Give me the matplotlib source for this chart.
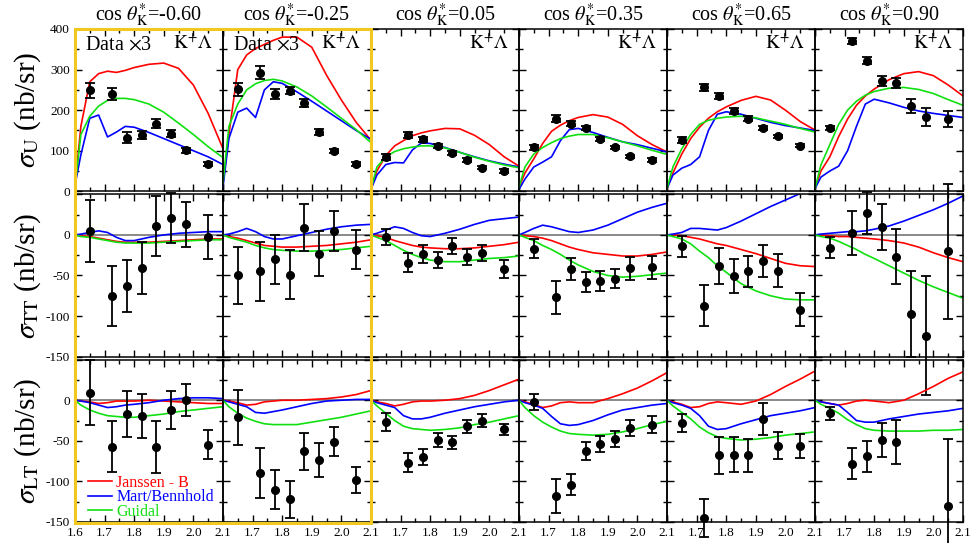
import numpy as np
import matplotlib
matplotlib.use("Agg")
import matplotlib.pyplot as plt
from matplotlib.patches import Rectangle
from matplotlib.ticker import MultipleLocator

plt.rcParams["font.family"] = ["Liberation Serif", "DejaVu Serif"]
plt.rcParams["mathtext.fontset"] = "stix"

# ----------------------------
# Data
# ----------------------------
cos_labels = ["-0.60", "-0.25", "0.05", "0.35", "0.65", "0.90"]
w_data = [1.65, 1.725, 1.775, 1.825, 1.875, 1.925, 1.975, 2.05]
w_model = [1.6, 1.62, 1.65, 1.68, 1.71, 1.74, 1.77, 1.8, 1.85, 1.9, 1.95, 2.0, 2.05, 2.1]

sigU = [
    [249, 240, 132, 138, 167, 142, 101, 67],
    [251, 292, 239, 248, 217, 147, 100, 67],
    [85, 138, 128, 112, 95, 77, 58, 50],
    [109, 179, 167, 155, 128, 108, 86, 77],
    [126, 256, 235, 198, 179, 157, 136, 112],
    [157, 371, 322, 272, 267, 210, 183, 178],
]
sigU_err = [
    [19, 14, 13, 10, 12, 8, 6, 5],
    [16, 16, 12, 8, 10, 7, 5, 5],
    [7, 7, 7, 5, 5, 4, 4, 4],
    [6, 8, 6, 5, 5, 4, 4, 4],
    [8, 9, 8, 7, 6, 5, 4, 4],
    [5, 7, 8, 12, 12, 18, 23, 19],
]
sigTT = [
    [5, -75, -63, -41, 11, 21, 13, -3],
    [-50, -45, -30, -49, 9, -23, 5, -18],
    [-3, -34, -23, -31, -14, -27, -22, -42],
    [-17, -77, -42, -58, -57, -54, -41, -40],
    [-14, -87, -38, -51, -45, -32, -44, -92],
    [-16, 2, 27, 10, -27, -97, -124, -20],
]
sigTT_err = [
    [38, 37, 32, 32, 37, 31, 28, 27],
    [35, 36, 30, 30, 29, 28, 25, 24],
    [10, 12, 11, 10, 10, 10, 10, 11],
    [12, 20, 13, 12, 12, 12, 14, 14],
    [13, 25, 22, 21, 19, 20, 20, 20],
    [13, 27, 26, 28, 34, 53, 73, 83],
]
sigLT = [
    [9, -57, -17, -19, -58, -12, 0, -55],
    [-21, -90, -110, -122, -63, -74, -51, -98],
    [-27, -77, -70, -49, -52, -32, -25, -36],
    [-2, -118, -104, -63, -54, -48, -34, -30],
    [-28, -145, -68, -67, -68, -23, -56, -56],
    [-16, -78, -69, -49, -51, np.nan, np.nan, -130],
]
sigLT_err = [
    [40, 31, 28, 27, 32, 24, 20, 18],
    [34, 31, 24, 23, 23, 21, 18, 16],
    [11, 12, 10, 9, 8, 8, 8, 7],
    [10, 21, 13, 11, 10, 10, 10, 10],
    [11, 23, 23, 22, 20, 20, 17, 15],
    [8, 19, 19, 21, 27, 0, 0, 82],
]

# model curves: Janssen - B / Mart-Bennhold / Guidal
U_janssen = [
    [10, 160, 270, 290, 296, 293, 298, 305, 313, 316, 303, 262, 192, 105],
    [20, 140, 300, 336, 352, 362, 372, 380, 380, 355, 286, 225, 170, 126],
    [5, 50, 88, 112, 125, 137, 144, 149, 155, 154, 138, 115, 85, 62],
    [10, 45, 80, 118, 148, 163, 174, 182, 189, 183, 165, 137, 115, 97],
    [7, 45, 92, 130, 158, 180, 196, 208, 224, 234, 225, 200, 172, 151],
    [7, 50, 85, 135, 178, 212, 235, 252, 275, 290, 295, 285, 262, 235],
]
U_mart = [
    [15, 90, 180, 188, 134, 146, 160, 158, 145, 130, 115, 100, 85, 66],
    [10, 130, 195, 205, 182, 250, 270, 266, 245, 222, 198, 174, 150, 128],
    [5, 40, 66, 71, 70, 102, 119, 118, 108, 96, 85, 75, 67, 60],
    [5, 30, 60, 72, 85, 125, 152, 155, 145, 133, 122, 115, 106, 97],
    [7, 40, 57, 66, 85, 150, 190, 196, 190, 180, 170, 162, 156, 150],
    [7, 35, 50, 62, 100, 160, 215, 227, 218, 207, 198, 192, 187, 182],
]
U_guidal = [
    [10, 140, 185, 210, 224, 229, 229, 226, 215, 195, 168, 140, 110, 83],
    [20, 160, 215, 250, 265, 273, 276, 272, 257, 235, 208, 180, 152, 120],
    [5, 60, 85, 98, 105, 109, 112, 112, 107, 96, 84, 74, 65, 58],
    [10, 60, 92, 108, 120, 130, 136, 140, 140, 132, 122, 112, 101, 91],
    [7, 60, 105, 140, 165, 175, 180, 183, 185, 181, 173, 165, 155, 146],
    [7, 65, 115, 165, 200, 222, 237, 246, 254, 256, 251, 241, 226, 212],
]
TT_janssen = [
    [0, -1, -2, -4, -6, -8, -9, -9, -9, -8, -7, -6, -5, -5],
    [0, -2, -4, -7, -10, -13, -14, -15, -15, -14, -13, -11, -9, -6],
    [0, -1, -3, -7, -10, -13, -15, -16, -17, -17, -16, -14, -12, -9],
    [0, -1, -2, -4, -7, -11, -15, -18, -22, -24, -26, -26, -24, -21],
    [0, 0, -1, -3, -5, -8, -11, -13, -18, -23, -29, -35, -38, -39],
    [0, 0, -1, -2, -2, -3, -4, -5, -7, -10, -15, -22, -28, -33],
]
TT_mart = [
    [0, 1, 3, 5, 3, -3, -7, -7, -3, 0, 2, 3, 4, 4],
    [0, 1, 4, 8, 4, -2, -5, -5, -1, 3, 7, 10, 12, 13],
    [0, 2, 6, 10, 8, 3, -1, -2, 2, 7, 13, 18, 20, 22],
    [0, 3, 8, 12, 10, 7, 4, 3, 6, 12, 20, 28, 34, 39],
    [0, 1, 3, 8, 8, 7, 6, 9, 17, 26, 35, 43, 51, 60],
    [0, 1, 2, 3, 4, 4, 5, 7, 11, 17, 24, 31, 39, 48],
]
TT_guidal = [
    [0, -2, -3, -5, -7, -9, -10, -10, -10, -9, -8, -7, -6, -6],
    [0, -3, -6, -9, -13, -16, -18, -19, -20, -20, -19, -18, -16, -14],
    [0, -3, -7, -13, -19, -24, -28, -31, -33, -33, -31, -29, -28, -26],
    [0, -3, -7, -13, -18, -24, -31, -37, -45, -50, -52, -51, -49, -47],
    [0, -2, -5, -11, -20, -28, -38, -46, -60, -69, -75, -79, -80, -80],
    [0, -2, -4, -8, -13, -18, -24, -29, -38, -47, -56, -64, -71, -78],
]
LT_janssen = [
    [0, -1, -2, -4, -3, -1, -1, -1, 0, -1, -2, -3, -4, -4],
    [0, -1, -3, -6, -5, -2, -1, 0, 0, 1, 2, 4, 7, 12],
    [0, -2, -4, -7, -5, -2, -1, -1, 0, 2, 6, 12, 19, 26],
    [0, -2, -5, -9, -7, -3, -2, -3, -3, 2, 8, 15, 24, 34],
    [0, -2, -5, -9, -8, -4, -2, -3, -5, -1, 7, 17, 26, 36],
    [0, -2, -4, -6, -4, -1, 0, -1, -3, 0, 8, 17, 27, 35],
]
LT_mart = [
    [0, -1, -3, -6, -9, -8, -6, -5, -3, 0, 2, 3, 3, 2],
    [0, -2, -5, -8, -15, -16, -14, -12, -8, -4, -1, 0, 1, 1],
    [0, -3, -6, -9, -19, -23, -23, -21, -16, -12, -8, -5, -2, 0],
    [0, -3, -6, -10, -20, -29, -31, -30, -25, -18, -12, -9, -6, -4],
    [0, -3, -6, -10, -19, -32, -36, -35, -29, -24, -19, -16, -13, -9],
    [0, -2, -4, -6, -15, -25, -27, -27, -23, -20, -17, -15, -13, -10],
]
LT_guidal = [
    [0, -6, -12, -16, -19, -20, -21, -21, -19, -17, -14, -12, -10, -8],
    [0, -8, -16, -22, -26, -29, -30, -30, -30, -27, -24, -21, -17, -13],
    [0, -7, -16, -25, -32, -35, -36, -37, -36, -34, -30, -27, -23, -19],
    [0, -9, -19, -27, -33, -38, -41, -42, -43, -42, -39, -35, -30, -26],
    [0, -7, -15, -23, -33, -40, -45, -47, -49, -48, -46, -43, -41, -39],
    [0, -5, -10, -16, -24, -30, -35, -37, -38, -38, -38, -37, -37, -36],
]

rows = [
    (sigU, sigU_err, U_janssen, U_mart, U_guidal, r"$\sigma_{\rm U}$ (nb/sr)"),
    (sigTT, sigTT_err, TT_janssen, TT_mart, TT_guidal, r"$\sigma_{\rm TT}$ (nb/sr)"),
    (sigLT, sigLT_err, LT_janssen, LT_mart, LT_guidal, r"$\sigma_{\rm LT}$ (nb/sr)"),
]

RED, BLUE, GREEN = "#ff0000", "#0000ff", "#10e010"

# ----------------------------
# Figure
# ----------------------------
fig, axes = plt.subplots(3, 6, figsize=(9.76, 5.43), dpi=100)
fig.patch.set_facecolor("white")
fig.subplots_adjust(left=0.0768, right=0.9867, top=0.9466, bottom=0.0387,
                    wspace=0, hspace=0.0185)

for r, (vals, errs, jan, mart, gui, ylab) in enumerate(rows):
    for c in range(6):
        ax = axes[r, c]
        ax.patch.set_visible(False)
        ax.set_xlim(1.6, 2.1)
        if r == 0:
            ax.set_ylim(0, 400)
            ax.yaxis.set_major_locator(MultipleLocator(100))
            ax.yaxis.set_minor_locator(MultipleLocator(50))
        else:
            ax.set_ylim(-150, 50)
            ax.axhline(0, color="#808080", lw=1.3, zorder=1)
            ax.yaxis.set_major_locator(MultipleLocator(50))
            ax.yaxis.set_minor_locator(MultipleLocator(25))
        ax.xaxis.set_major_locator(MultipleLocator(0.1))
        ax.xaxis.set_minor_locator(MultipleLocator(0.05))

        ax.plot(w_model, jan[c], color=RED, lw=1.2, label="Janssen - B", zorder=2)
        ax.plot(w_model, mart[c], color=BLUE, lw=1.2, label="Mart/Bennhold", zorder=2)
        ax.plot(w_model, gui[c], color=GREEN, lw=1.2, label="Guidal", zorder=2)

        eb = ax.errorbar(w_data, vals[c], yerr=errs[c], fmt="o", color="black",
                         ms=5.5, elinewidth=1.3, capsize=3.5, capthick=1.3, zorder=3)
        for art in eb.get_children():
            art.set_clip_on(False)

        ax.tick_params(which="both", direction="in", top=True, right=True,
                       labelsize=9.5, width=1)
        ax.tick_params(which="major", length=5)
        ax.tick_params(which="minor", length=3)
        for sp in ax.spines.values():
            sp.set_linewidth(1.1)

        # y tick labels only on the left column
        if c == 0:
            if r == 0:
                ax.set_yticks([0, 100, 200, 300, 400])
                ax.set_yticklabels(["0", "100", "200", "300", "400"])
            else:
                ax.set_yticks([-150, -100, -50, 0, 50])
                ax.set_yticklabels(["-150", "-100", "-50", "0", ""])
            ax.set_ylabel(ylab, fontsize=21)
            ax.yaxis.set_label_coords(-0.215, 0.5)
        else:
            ax.set_yticklabels([])

        # x tick labels only on the bottom row
        if r == 2:
            ticks = [1.6, 1.7, 1.8, 1.9, 2.0, 2.1]
            labels = ["1.6", "1.7", "1.8", "1.9", "2.0", "2.1"]
            if c > 0:
                labels[0] = ""
            ax.set_xticks(ticks)
            ax.set_xticklabels(labels)
        else:
            ax.set_xticklabels([])

        if r == 0:
            ax.set_title(r"cos $\theta_{\rm K}^{*}$=" + cos_labels[c], fontsize=14.5, pad=4)
            ax.text(0.93, 0.91, r"$\mathrm{K}^{+}\Lambda$", transform=ax.transAxes,
                    ha="right", va="center", fontsize=14)
            if c < 2:
                ax.text(0.07, 0.9, r"Data $\times$3", transform=ax.transAxes,
                        ha="left", va="center", fontsize=14.5)

# legend in the lower left panel
leg = axes[2, 0].legend(loc="lower left", bbox_to_anchor=(0.0, -0.065), frameon=False,
                        fontsize=11.5, labelcolor="linecolor", handlelength=1.5,
                        handletextpad=0.3, labelspacing=-0.1, borderpad=0.3)

# yellow highlight box around the first two columns
fig.add_artist(Rectangle((75 / 976, 1 - 523 / 543), (371 - 75) / 976, (523 - 29) / 543,
                         transform=fig.transFigure, fill=False,
                         edgecolor="#f2c81e", lw=2.2, zorder=10))

fig.savefig("out.png", dpi=100)
